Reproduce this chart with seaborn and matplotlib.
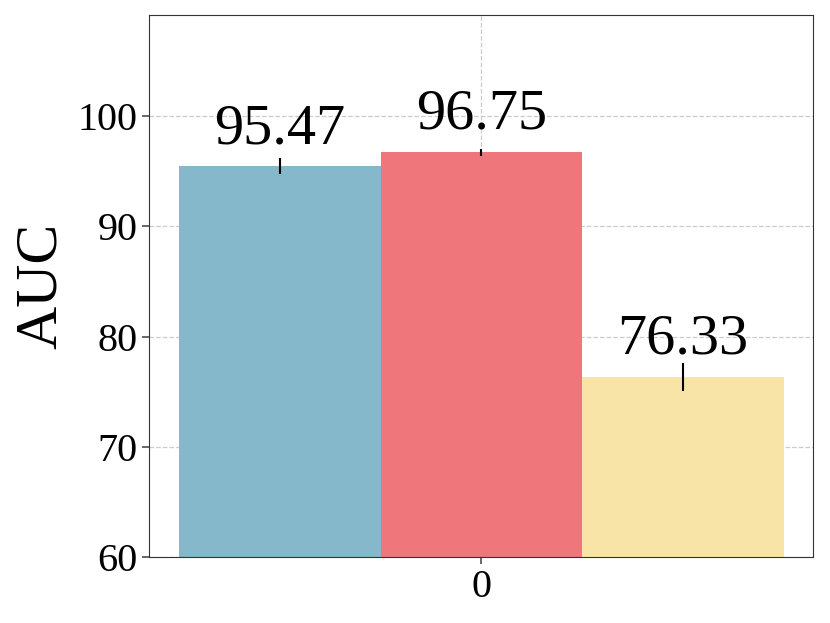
import matplotlib
matplotlib.use("Agg")
import matplotlib.pyplot as plt
import seaborn as sns
import pandas as pd

# values
groups = [0, 0, 0]
methods = ["Method A", "Method B", "Method C"]
auc = [95.47, 96.75, 76.33]
auc_err = [0.72, 0.32, 1.27]
colors = ["#85B8CB", "#EF767B", "#F7E4A6"]

sns.set_theme(style="ticks")
plt.rcParams.update({
    "font.family": ["Liberation Serif", "DejaVu Serif"],
    "axes.edgecolor": "#333333",
    "axes.linewidth": 0.8,
    "text.color": "black",
    "axes.labelcolor": "black",
    "xtick.labelcolor": "black",
    "ytick.labelcolor": "black",
})

df = pd.DataFrame({"group": groups, "method": methods, "auc": auc})

fig, ax = plt.subplots(figsize=(8.3, 6.23), dpi=100)
sns.barplot(data=df, x="group", y="auc", hue="method", palette=colors,
            width=0.91, errorbar=None, legend=False, ax=ax, saturation=1,
            linewidth=0)

for patch, val, err in zip(ax.patches, auc, auc_err):
    cx = patch.get_x() + patch.get_width() / 2
    ax.errorbar(cx, val, yerr=err, fmt="none", ecolor="black", elinewidth=1.5, capsize=0)
    ax.text(cx, val + 2.1, f"{val:.2f}", ha="center", va="baseline", fontsize=42)

ax.set_ylim(60, 109.2)
ax.set_xlim(-0.5, 0.5)
ax.set_yticks([60, 70, 80, 90, 100])
ax.set_xlabel("")
ax.set_ylabel("AUC", fontsize=43, labelpad=6)
ax.tick_params(axis="both", labelsize=29, length=5, color="#555555")
ax.grid(True, linestyle="--", color="#cccccc", linewidth=0.9)
ax.set_axisbelow(True)

fig.subplots_adjust(left=0.18, right=0.98, top=0.976, bottom=0.106)
fig.savefig("out.png", dpi=100)
